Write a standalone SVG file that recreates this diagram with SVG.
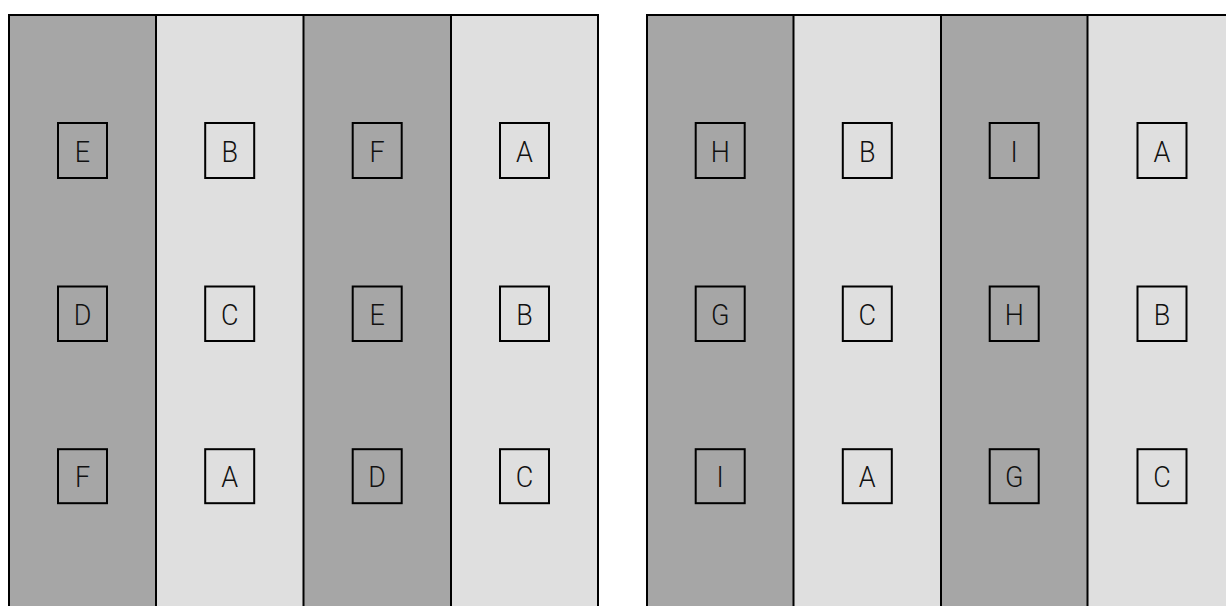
<svg xmlns="http://www.w3.org/2000/svg" width="1226" height="606" viewBox="0 0 1226 606">
<style>
.dk{fill:#a6a6a6}
.lt{fill:#dfdfdf}
.ln{stroke:#000;stroke-width:2;fill:none}
.bx rect{stroke:#000;stroke-width:2}
.bx.d rect{fill:#a6a6a6}
.bx.l rect{fill:#dfdfdf}
.bx text{font-family:Roboto,"Liberation Sans",sans-serif;font-size:30px;font-weight:300;fill:#111;text-anchor:middle}
</style>
<rect width="1226" height="606" fill="#fff"/>
<g id="panel-left">
<rect class="dk" x="9" y="15" width="147" height="600"/>
<rect class="lt" x="156" y="15" width="147.5" height="600"/>
<rect class="dk" x="303.5" y="15" width="147.5" height="600"/>
<rect class="lt" x="451" y="15" width="147" height="600"/>
<path class="ln" d="M9,620V15H598V620M156,15V620M303.5,15V620M451,15V620"/>
</g>
<g id="panel-right">
<rect class="dk" x="647" y="15" width="146.5" height="600"/>
<rect class="lt" x="793.5" y="15" width="147.5" height="600"/>
<rect class="dk" x="941" y="15" width="146.5" height="600"/>
<rect class="lt" x="1087.5" y="15" width="150" height="600"/>
<path class="ln" d="M647,620V15H1240M793.5,15V620M941,15V620M1087.5,15V620"/>
</g>
<g id="connectors"></g>
<g id="n-l-E1" class="bx d"><rect x="58" y="123" width="49" height="55"/><text transform="translate(82.5,161.5) scale(0.9,1)">E</text></g>
<g id="n-l-B1" class="bx l"><rect x="205.2" y="123" width="49" height="55"/><text transform="translate(229.7,161.5) scale(0.9,1)">B</text></g>
<g id="n-l-F1" class="bx d"><rect x="352.7" y="123" width="49" height="55"/><text transform="translate(377.2,161.5) scale(0.9,1)">F</text></g>
<g id="n-l-A1" class="bx l"><rect x="500" y="123" width="49" height="55"/><text transform="translate(524.5,161.5) scale(0.9,1)">A</text></g>
<g id="n-l-D2" class="bx d"><rect x="58" y="286.5" width="49" height="54.5"/><text transform="translate(82.5,324.5) scale(0.9,1)">D</text></g>
<g id="n-l-C2" class="bx l"><rect x="205.2" y="286.5" width="49" height="54.5"/><text transform="translate(229.7,324.5) scale(0.9,1)">C</text></g>
<g id="n-l-E2" class="bx d"><rect x="352.7" y="286.5" width="49" height="54.5"/><text transform="translate(377.2,324.5) scale(0.9,1)">E</text></g>
<g id="n-l-B2" class="bx l"><rect x="500" y="286.5" width="49" height="54.5"/><text transform="translate(524.5,324.5) scale(0.9,1)">B</text></g>
<g id="n-l-F3" class="bx d"><rect x="58" y="449.2" width="49" height="54"/><text transform="translate(82.5,487) scale(0.9,1)">F</text></g>
<g id="n-l-A3" class="bx l"><rect x="205.2" y="449.2" width="49" height="54"/><text transform="translate(229.7,487) scale(0.9,1)">A</text></g>
<g id="n-l-D3" class="bx d"><rect x="352.7" y="449.2" width="49" height="54"/><text transform="translate(377.2,487) scale(0.9,1)">D</text></g>
<g id="n-l-C3" class="bx l"><rect x="500" y="449.2" width="49" height="54"/><text transform="translate(524.5,487) scale(0.9,1)">C</text></g>
<g id="n-r-H1" class="bx d"><rect x="695.7" y="123" width="49" height="55"/><text transform="translate(720.2,161.5) scale(0.9,1)">H</text></g>
<g id="n-r-B1" class="bx l"><rect x="842.8" y="123" width="49" height="55"/><text transform="translate(867.3,161.5) scale(0.9,1)">B</text></g>
<g id="n-r-I1" class="bx d"><rect x="989.7" y="123" width="49" height="55"/><text transform="translate(1014.2,161.5) scale(0.9,1)">I</text></g>
<g id="n-r-A1" class="bx l"><rect x="1137.5" y="123" width="49" height="55"/><text transform="translate(1162,161.5) scale(0.9,1)">A</text></g>
<g id="n-r-G2" class="bx d"><rect x="695.7" y="286.5" width="49" height="54.5"/><text transform="translate(720.2,324.5) scale(0.9,1)">G</text></g>
<g id="n-r-C2" class="bx l"><rect x="842.8" y="286.5" width="49" height="54.5"/><text transform="translate(867.3,324.5) scale(0.9,1)">C</text></g>
<g id="n-r-H2" class="bx d"><rect x="989.7" y="286.5" width="49" height="54.5"/><text transform="translate(1014.2,324.5) scale(0.9,1)">H</text></g>
<g id="n-r-B2" class="bx l"><rect x="1137.5" y="286.5" width="49" height="54.5"/><text transform="translate(1162,324.5) scale(0.9,1)">B</text></g>
<g id="n-r-I3" class="bx d"><rect x="695.7" y="449.2" width="49" height="54"/><text transform="translate(720.2,487) scale(0.9,1)">I</text></g>
<g id="n-r-A3" class="bx l"><rect x="842.8" y="449.2" width="49" height="54"/><text transform="translate(867.3,487) scale(0.9,1)">A</text></g>
<g id="n-r-G3" class="bx d"><rect x="989.7" y="449.2" width="49" height="54"/><text transform="translate(1014.2,487) scale(0.9,1)">G</text></g>
<g id="n-r-C3" class="bx l"><rect x="1137.5" y="449.2" width="49" height="54"/><text transform="translate(1162,487) scale(0.9,1)">C</text></g>
</svg>
